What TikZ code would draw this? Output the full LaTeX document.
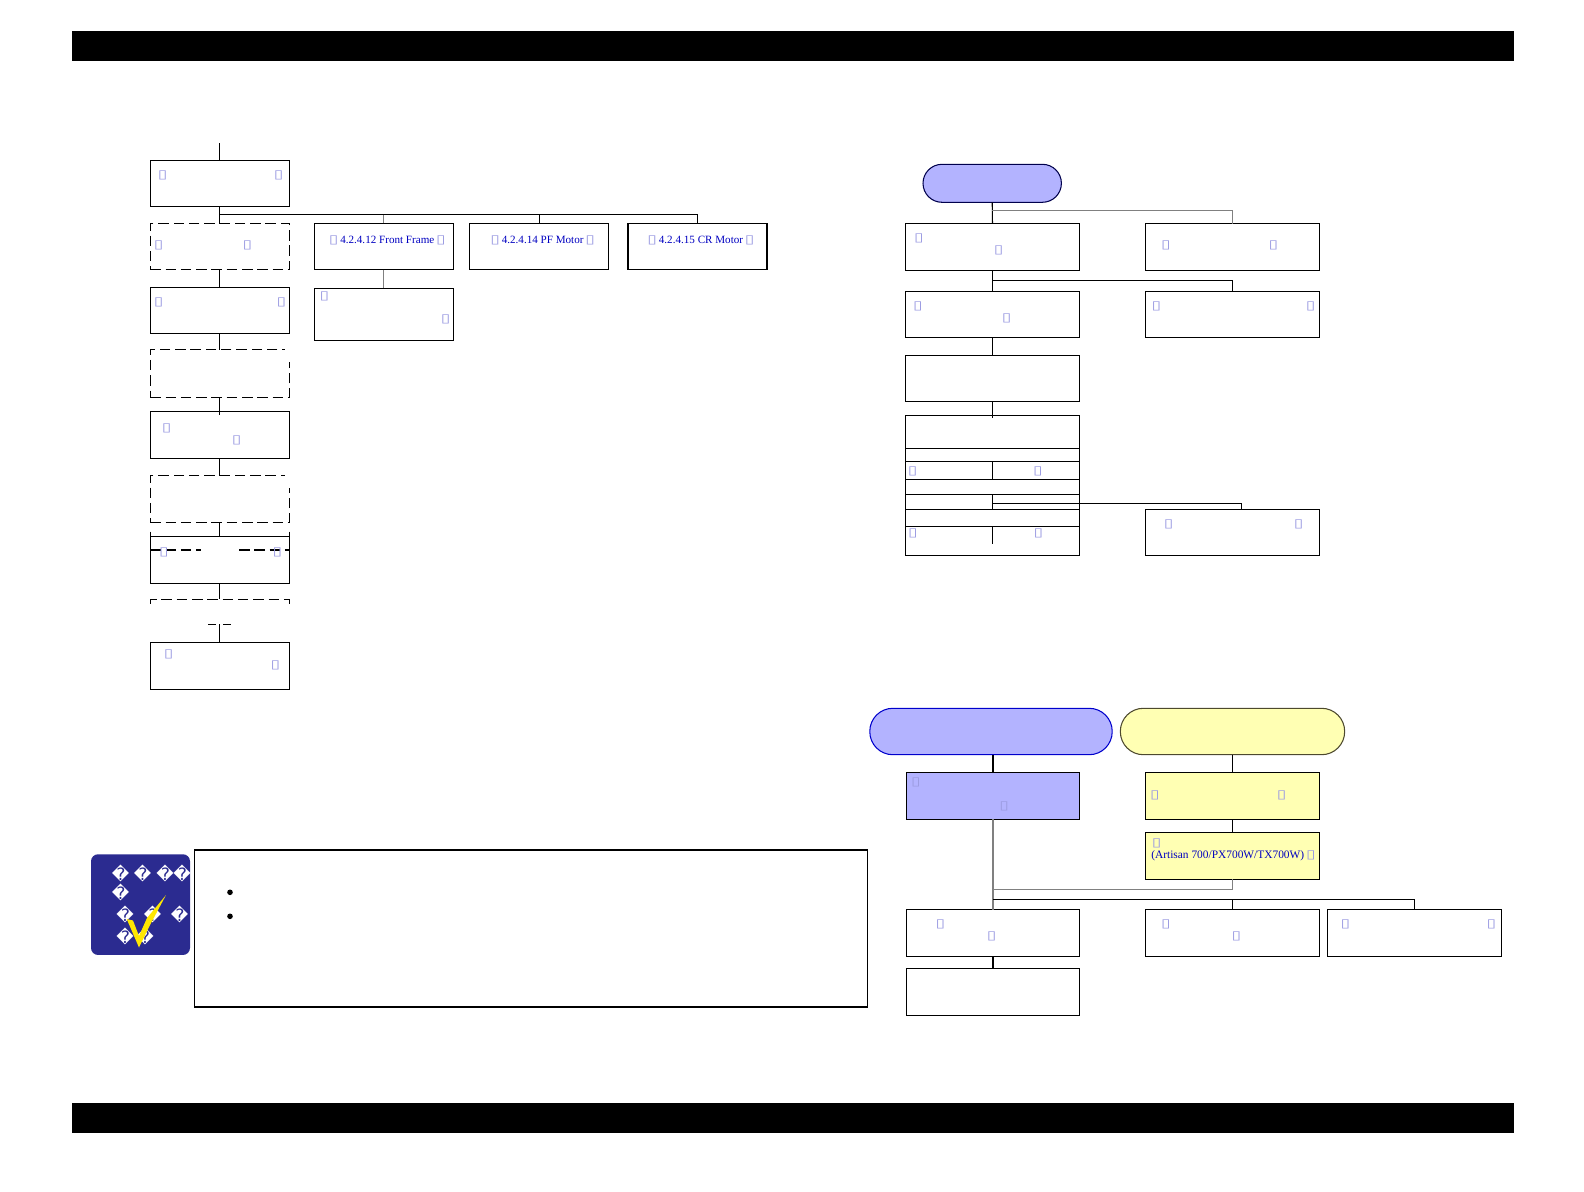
\documentclass[tikz,border=0pt]{standalone}
\usepackage{graphicx}
\usepackage{fontspec}
\setmainfont{Liberation Serif}
\newfontfamily\symfont{DejaVu Sans}
\usetikzlibrary{positioning}
\definecolor{periwinkle}{HTML}{B3B3FF}
\definecolor{palelemon}{HTML}{FFFFB3}
\definecolor{linkblue}{HTML}{0000C0}
\definecolor{tofublue}{HTML}{9C9CE2}
\definecolor{noteblue}{HTML}{2B2B90}
\newcommand{\tofumark}{\scalebox{1.45}[1]{\symfont\color{tofublue}\fontsize{12}{12}\selectfont ▯}}
\begin{document}
\begin{tikzpicture}[
    x=1pt, y=-1pt,
    line width=1.05pt,
    block/.style={rectangle, draw, inner sep=0pt, outer sep=0pt, minimum width=139pt, minimum height=46.5pt, align=center, font=\fontsize{11.4}{13}\selectfont, text=linkblue},
    motorblock/.style={block, font=\fontsize{11.1}{13}\selectfont},
    wideblock/.style={block, minimum width=174.4pt},
    dashblock/.style={block, dash pattern=on 10.5pt off 4.8pt},
    dashstub/.style={dash pattern=on 10.5pt off 4.8pt},
    pill/.style={rectangle, draw, inner sep=0pt, outer sep=0pt, minimum height=46.4pt, rounded corners=23pt},
    tofu/.style={inner sep=0pt, outer sep=0pt},
    diamondmark/.style={inner sep=0pt, outer sep=0pt, text=white, font=\symfont\fontsize{17}{17}\selectfont},
    paleline/.style={draw=black!50, line width=1.3pt}
]
\useasboundingbox (0,0) rectangle (1584,1191);
\node[fill=black, inner sep=0pt, minimum width=1442pt, minimum height=30pt] (topbar) at (793,45.7) {};
\node[fill=black, inner sep=0pt, minimum width=1442pt, minimum height=29.2pt] (bottombar) at (793,1118) {};

\coordinate (entry) at (219.7,143);
\node[block] (lone) at (219.7,183.3) {};
\node[dashblock, node distance=63.4pt, below of=lone] (ltwo) {};
\node[block, node distance=63.6pt, below of=ltwo] (lthree) {};
\node[dashblock, node distance=63pt, below of=lthree, minimum height=48pt] (lfour) {};
\node[block, node distance=61.5pt, below of=lfour] (lfive) {};
\node[dashblock, node distance=64pt, below of=lfive] (lsix) {};
\node[block, node distance=61.4pt, below of=lsix] (lseven) {};
\node[block, node distance=106pt, below of=lseven] (lnine) {};
\fill[white] (284.5,346) rectangle (292,361.5);
\fill[white] (284.5,472) rectangle (292,487.5);
\draw[dashstub] (150.3,531.5) -- (150.3,537);
\draw[dashstub] (289.3,531.5) -- (289.3,537);
\draw[dashstub] (150.3,550) -- (201,550);
\draw[dashstub] (239,550) -- (289.5,550);
\draw[dashstub] (150.3,603.5) -- (150.3,599.3) -- (289.7,599.3) -- (289.7,603.5);
\draw (208,624.3) -- (216,624.3);
\draw (223,624.3) -- (231,624.3);
\coordinate (gaptop) at (219.7,599.3);
\coordinate (gapend) at (219.7,624.3);

\node[motorblock] (frontframe) at (383.8,246.7) {\hspace*{7pt}\tofumark\,4.2.4.12 Front Frame\,\tofumark\\[1pt]~};
\node[block, minimum height=52.4pt, node distance=67.8pt, below of=frontframe] (framesub) {};
\node[motorblock] (pfmotor) at (539.2,246.7) {\hspace*{7pt}\tofumark\,4.2.4.14 PF Motor\,\tofumark\\[1pt]~};
\node[motorblock] (crmotor) at (697.5,246.7) {\hspace*{7pt}\tofumark\,4.2.4.15 CR Motor\,\tofumark\\[1pt]~};

\draw (entry) -- (lone.north);
\draw (lone.south) -- (ltwo.north);
\draw (ltwo.south) -- (lthree.north);
\draw[shorten >=-1pt] (lthree.south) -- (lfour.north);
\draw[shorten >=-3pt] (lfour.south) -- (lfive.north);
\draw (lfive.south) -- (lsix.north);
\draw (lsix.south) -- (lseven.north);
\draw (lseven.south) -- (gaptop);
\draw (gapend) -- (lnine.north);
\draw (lone.south) -- ++(0,8) -| (pfmotor.north);
\draw (lone.south) ++(0,8) -| (crmotor.north);
\draw[paleline] (frontframe.north) -- ++(0,-8.5);
\draw[paleline] (frontframe.south) -- (framesub.north);

\node[tofu] (t1) at (162.7,175.7) {\tofumark};
\node[tofu] (t2) at (278.7,175.7) {\tofumark};
\node[tofu] (t3) at (158.7,245.7) {\tofumark};
\node[tofu] (t4) at (247.3,245.7) {\tofumark};
\node[tofu] (t5) at (158.7,302.3) {\tofumark};
\node[tofu] (t6) at (281.3,302.3) {\tofumark};
\node[tofu] (t7) at (324.3,296) {\tofumark};
\node[tofu] (t8) at (445.7,319.7) {\tofumark};
\node[tofu] (t9) at (166.7,428.3) {\tofumark};
\node[tofu] (t10) at (236.7,440.3) {\tofumark};
\node[tofu] (t11) at (164,552.7) {\tofumark};
\node[tofu] (t12) at (277.3,552.7) {\tofumark};
\node[tofu] (t13) at (168.7,654) {\tofumark};
\node[tofu] (t14) at (275.3,665.7) {\tofumark};

\node[pill, fill=periwinkle, draw=black!50!blue!60!black, minimum width=138.4pt, minimum height=38pt, rounded corners=19pt] (startpill) at (992.2,183.3) {};
\node[wideblock] (rone) at (992.5,246.8) {};
\node[wideblock] (rtwo) at (1232.5,246.8) {};
\node[wideblock, node distance=67.5pt, below of=rone] (rthree) {};
\node[wideblock, node distance=67.5pt, below of=rtwo] (rfour) {};
\node[wideblock, node distance=64pt, below of=rthree] (rfive) {};
\node[wideblock, node distance=60pt, below of=rfive] (stacka) {};
\node[wideblock, node distance=33pt, below of=stacka] (stackb) {};
\node[wideblock, node distance=31.5pt, below of=stackb] (stackc) {};
\node[wideblock, node distance=29.7pt, below of=stackc] (stackd) {};
\node[wideblock] (stackside) at (1232.5,532.5) {};
\coordinate (stackend) at (992.5,543.7);

\draw (startpill.south) -- (rone.north);
\draw[paleline] (startpill.south) ++(0,8.4) -| (rtwo.north);
\draw (rone.south) -- (rthree.north);
\draw (rone.south) ++(0,10) -| (rfour.north);
\draw (rthree.south) -- (rfive.north);
\draw[shorten >=-3pt] (rfive.south) -- (stacka.north);
\draw (stacka.south) -- (stackc.north);
\draw (stackb.south) -- (stackd.north);
\draw (stackc.south) -- (stackend);
\draw (stackb.south) ++(0,9.4) -| ([xshift=9.2pt]stackside.north);

\node[tofu] (t15) at (919,238.7) {\tofumark};
\node[tofu] (t16) at (998.7,250.7) {\tofumark};
\node[tofu] (t17) at (1166,245) {\tofumark};
\node[tofu] (t18) at (1273.3,245) {\tofumark};
\node[tofu] (t19) at (918,306.7) {\tofumark};
\node[tofu] (t20) at (1006.7,318.7) {\tofumark};
\node[tofu] (t21) at (1156.3,306.3) {\tofumark};
\node[tofu] (t22) at (1310.7,306.3) {\tofumark};
\node[tofu] (t23) at (912.7,471) {\tofumark};
\node[tofu] (t24) at (1038,471) {\tofumark};
\node[tofu] (t25) at (913,533) {\tofumark};
\node[tofu] (t26) at (1038.3,533) {\tofumark};
\node[tofu] (t27) at (1168.7,524.7) {\tofumark};
\node[tofu] (t28) at (1298.7,524.7) {\tofumark};

\node[pill, fill=periwinkle, draw=blue!80!black, minimum width=242.4pt] (bluepill) at (991,731.5) {};
\node[pill, fill=palelemon, draw=black!60!olive, minimum width=224.3pt] (yellowpill) at (1232.5,731.5) {};
\node[wideblock, fill=periwinkle, minimum width=173.4pt] (bluebox) at (993,795.8) {};
\node[wideblock, fill=palelemon] (yellowbox) at (1232.5,795.8) {};
\node[wideblock, fill=palelemon, node distance=60pt, below of=yellowbox] (modelbox) {\hspace*{2pt}(Artisan 700/PX700W/TX700W)\,\tofumark};
\node[wideblock, minimum width=173.4pt] (lowa) at (993,932.8) {};
\node[wideblock] (lowb) at (1232.5,932.8) {};
\node[wideblock] (lowc) at (1414.5,932.8) {};
\node[wideblock, minimum width=173.4pt, node distance=59pt, below of=lowa] (lowd) {};

\draw (bluebox.north) -- (bluebox.north |- bluepill.south);
\draw (yellowpill.south) -- (yellowbox.north);
\draw (yellowbox.south) -- (modelbox.north);
\draw[paleline] (bluebox.south) -- (lowa.north);
\draw[paleline] (modelbox.south) |- ([yshift=20.3pt]lowa.north);
\draw (lowa.north) ++(0,-9.6) -| (lowb.north);
\draw (lowa.north) ++(0,-9.6) -| (lowc.north);
\draw (lowa.south) -- (lowd.north);

\node[tofu] (t29) at (915.8,782.3) {\tofumark};
\node[tofu] (t30) at (1004.2,806.3) {\tofumark};
\node[tofu] (t31) at (1155,795.7) {\tofumark};
\node[tofu] (t32) at (1281.7,795.7) {\tofumark};
\node[tofu] (t33) at (1156.7,843.3) {\tofumark};
\node[tofu] (t34) at (940.4,924.7) {\tofumark};
\node[tofu] (t35) at (991.7,936.7) {\tofumark};
\node[tofu] (t36) at (1165.8,924.7) {\tofumark};
\node[tofu] (t37) at (1236.3,936.7) {\tofumark};
\node[tofu] (t38) at (1345.4,924) {\tofumark};
\node[tofu] (t39) at (1491.3,924) {\tofumark};

\node[rectangle, fill=noteblue, rounded corners=7pt, inner sep=0pt, minimum width=99pt, minimum height=100.7pt] (noteicon) at (140.5,904.6) {};
\node[rectangle, draw, inner sep=0pt, minimum width=673.6pt, minimum height=157pt] (notebox) at (531,928.5) {};
\node[circle, fill=black, inner sep=0pt, minimum size=5.6pt] (dotone) at (230,892.3) {};
\node[circle, fill=black, inner sep=0pt, minimum size=5.6pt, node distance=24pt, below of=dotone] (dottwo) {};
\node[diamondmark] (d1) at (120.7,873.3) {�};
\node[diamondmark] (d2) at (142.7,873.3) {�};
\node[diamondmark] (d3) at (165,873.3) {�};
\node[diamondmark] (d4) at (182,873.3) {�};
\node[diamondmark] (d5) at (120.7,892.7) {�};
\node[diamondmark] (d6) at (125,914) {�};
\node[diamondmark] (d7) at (152.7,914) {�};
\node[diamondmark] (d8) at (179.7,914) {�};
\node[diamondmark] (d9) at (125,936) {�};
\node[diamondmark] (d10) at (145,936) {�};
\fill[yellow!90!orange] (126.7,919) -- (133,920.5) -- (139,936) -- (147,918) -- (166,895) -- (150,925) -- (139,947.5) -- cycle;
\end{tikzpicture}
\end{document}
